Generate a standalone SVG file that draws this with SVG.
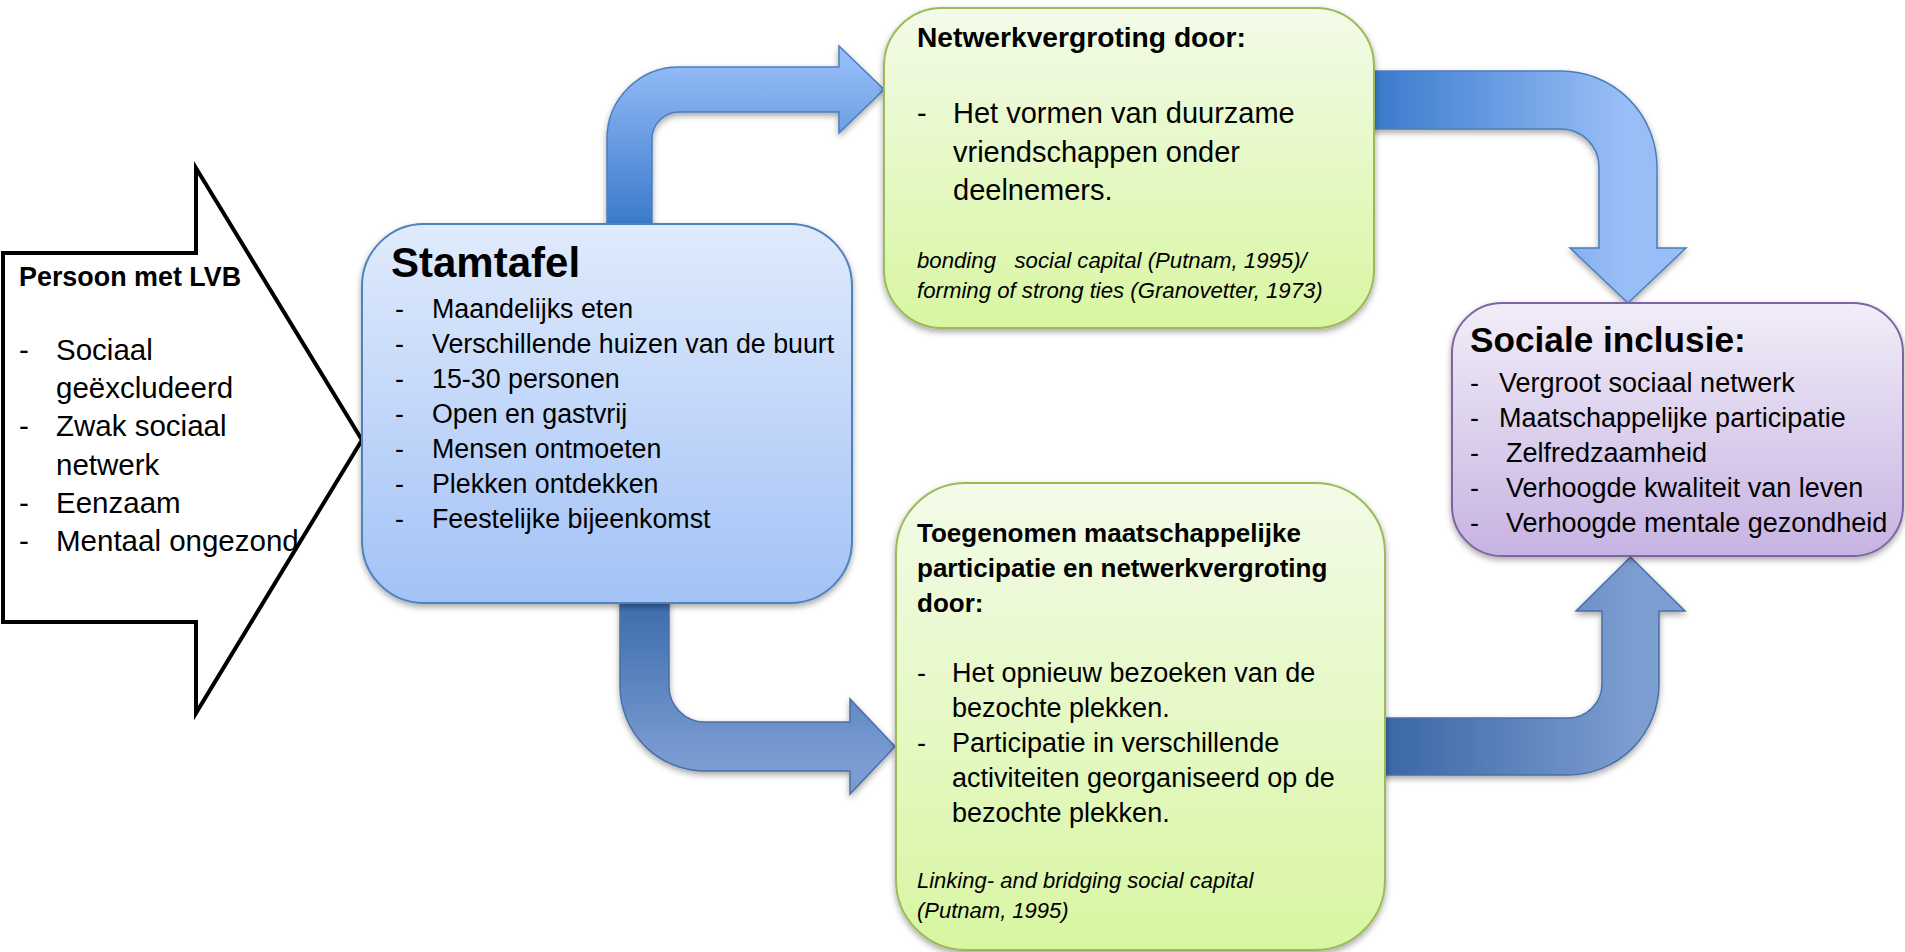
<svg xmlns="http://www.w3.org/2000/svg" width="1905" height="952" viewBox="0 0 1905 952">
<defs>
<style>
text{font-family:"Liberation Sans",Arial,sans-serif;fill:#000}
.b{font-weight:bold}
.i{font-style:italic}
.box{stroke-width:2}
.arr{stroke-width:1.5}
</style>
<linearGradient id="gStam" x1="0" y1="0" x2="0" y2="1"><stop offset="0" stop-color="#e0ebfc"/><stop offset="1" stop-color="#a3c2f6"/></linearGradient>
<linearGradient id="gGreen" x1="0" y1="0" x2="0" y2="1"><stop offset="0" stop-color="#f3fbe8"/><stop offset="1" stop-color="#d8f6a2"/></linearGradient>
<linearGradient id="gPurple" x1="0" y1="0" x2="0" y2="1"><stop offset="0" stop-color="#f1edf8"/><stop offset="1" stop-color="#c7b3e2"/></linearGradient>
<linearGradient id="gA1" gradientUnits="userSpaceOnUse" x1="0" y1="222" x2="0" y2="60"><stop offset="0" stop-color="#3c7bcc"/><stop offset="1" stop-color="#95bcf7"/></linearGradient>
<linearGradient id="gA2" gradientUnits="userSpaceOnUse" x1="1374" y1="0" x2="1620" y2="0"><stop offset="0" stop-color="#3a7acc"/><stop offset="1" stop-color="#98bdf7"/></linearGradient>
<linearGradient id="gA3" gradientUnits="userSpaceOnUse" x1="0" y1="603" x2="0" y2="760"><stop offset="0" stop-color="#3d6cad"/><stop offset="1" stop-color="#7a9cd1"/></linearGradient>
<linearGradient id="gA4" gradientUnits="userSpaceOnUse" x1="1385" y1="0" x2="1640" y2="0"><stop offset="0" stop-color="#3a67a6"/><stop offset="1" stop-color="#7d9ed1"/></linearGradient>
<filter id="sh" x="-10%" y="-10%" width="120%" height="125%"><feDropShadow dx="0" dy="3" stdDeviation="3" flood-color="#000" flood-opacity="0.35"/></filter>
</defs>
<rect width="1905" height="952" fill="#fff"/>

<g id="connectors">
<path id="arrow-stam-top" class="arr" filter="url(#sh)" fill="url(#gA1)" stroke="#4a7ebb" d="M607,224 L607,139 A72,72 0 0 1 679,67 L839,67 L839,46 L884,89.5 L839,133 L839,112 L679,112 A27,27 0 0 0 652,139 L652,224 Z"/>
<path id="arrow-top-sociale" class="arr" filter="url(#sh)" fill="url(#gA2)" stroke="#4a7ebb" d="M1370,71 L1561,71 A96,96 0 0 1 1657,167 L1657,248 L1686,248 L1628,303 L1570,248 L1599,248 L1599,167 A38,38 0 0 0 1561,129 L1370,129 Z"/>
<path id="arrow-stam-bottom" class="arr" filter="url(#sh)" fill="url(#gA3)" stroke="#4a6fa8" d="M620,600 L620,686 A85,85 0 0 0 705,771 L850,771 L850,794 L895,746.5 L850,699 L850,722 L705,722 A36,36 0 0 1 669,686 L669,600 Z"/>
<path id="arrow-bottom-sociale" class="arr" filter="url(#sh)" fill="url(#gA4)" stroke="#4a6fa8" d="M1380,718 L1568,718 A34,34 0 0 0 1602,684 L1602,611 L1576,611 L1630.5,557 L1685,611 L1659,611 L1659,684 A91,91 0 0 1 1568,775 L1380,775 Z"/>
</g>

<g id="node-persoon">
<path d="M3,253 L196,253 L196,168 L362,440 L196,713 L196,622 L3,622 Z" fill="#fff" stroke="#000" stroke-width="4" stroke-linejoin="miter"/>
<text class="b" x="19" y="286" font-size="26.9">Persoon met LVB</text>
<g font-size="29.5">
<text x="19" y="360">-</text><text x="56" y="360">Sociaal</text>
<text x="56" y="398">geëxcludeerd</text>
<text x="19" y="436">-</text><text x="56" y="436">Zwak sociaal</text>
<text x="56" y="475">netwerk</text>
<text x="19" y="513">-</text><text x="56" y="513">Eenzaam</text>
<text x="19" y="551">-</text><text x="56" y="551">Mentaal ongezond</text>
</g>
</g>

<g id="node-stamtafel">
<rect class="box" filter="url(#sh)" x="362" y="224" width="490" height="379" rx="62" fill="url(#gStam)" stroke="#4f81bd"/>
<text class="b" x="391" y="277" font-size="42">Stamtafel</text>
<g font-size="26.8">
<text x="395" y="318">-</text><text x="432" y="318">Maandelijks eten</text>
<text x="395" y="353">-</text><text x="432" y="353">Verschillende huizen van de buurt</text>
<text x="395" y="388">-</text><text x="432" y="388">15-30 personen</text>
<text x="395" y="423">-</text><text x="432" y="423">Open en gastvrij</text>
<text x="395" y="458">-</text><text x="432" y="458">Mensen ontmoeten</text>
<text x="395" y="493">-</text><text x="432" y="493">Plekken ontdekken</text>
<text x="395" y="528">-</text><text x="432" y="528">Feestelijke bijeenkomst</text>
</g>
</g>

<g id="node-netwerkvergroting">
<rect class="box" filter="url(#sh)" x="884" y="8" width="490" height="320" rx="58" fill="url(#gGreen)" stroke="#9bbb59"/>
<text class="b" x="917" y="47" font-size="28.2">Netwerkvergroting door:</text>
<g font-size="29">
<text x="917" y="123">-</text><text x="953" y="123">Het vormen van duurzame</text>
<text x="953" y="162">vriendschappen onder</text>
<text x="953" y="200">deelnemers.</text>
</g>
<g font-size="22.2">
<text class="i" x="917" y="268" xml:space="preserve">bonding   social capital (Putnam, 1995)/</text>
<text class="i" x="917" y="298">forming of strong ties (Granovetter, 1973)</text>
</g>
</g>

<g id="node-participatie">
<rect class="box" filter="url(#sh)" x="896" y="483" width="489" height="467" rx="70" fill="url(#gGreen)" stroke="#9bbb59"/>
<g font-size="26">
<text class="b" x="917" y="542">Toegenomen maatschappelijke</text>
<text class="b" x="917" y="577">participatie en netwerkvergroting</text>
<text class="b" x="917" y="612">door:</text>
</g>
<g font-size="27">
<text x="917" y="682">-</text><text x="952" y="682">Het opnieuw bezoeken van de</text>
<text x="952" y="717">bezochte plekken.</text>
<text x="917" y="752">-</text><text x="952" y="752">Participatie in verschillende</text>
<text x="952" y="787">activiteiten georganiseerd op de</text>
<text x="952" y="822">bezochte plekken.</text>
</g>
<g font-size="22">
<text class="i" x="917" y="888">Linking- and bridging social capital</text>
<text class="i" x="917" y="918">(Putnam, 1995)</text>
</g>
</g>

<g id="node-sociale-inclusie">
<rect class="box" filter="url(#sh)" x="1452" y="303" width="451" height="253" rx="50" fill="url(#gPurple)" stroke="#8064a2"/>
<text class="b" x="1470" y="352" font-size="35.2">Sociale inclusie:</text>
<g font-size="27">
<text x="1470" y="392">-</text><text x="1499" y="392">Vergroot sociaal netwerk</text>
<text x="1470" y="427">-</text><text x="1499" y="427">Maatschappelijke participatie</text>
<text x="1470" y="462">-</text><text x="1506" y="462">Zelfredzaamheid</text>
<text x="1470" y="497">-</text><text x="1506" y="497">Verhoogde kwaliteit van leven</text>
<text x="1470" y="532">-</text><text x="1506" y="532">Verhoogde mentale gezondheid</text>
</g>
</g>
</svg>
